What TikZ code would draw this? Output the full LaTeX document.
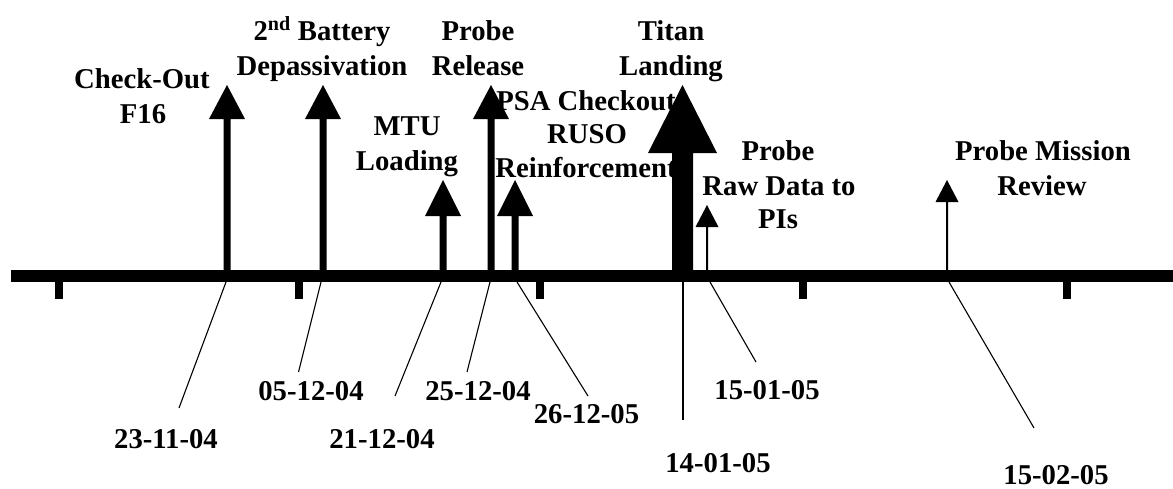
\documentclass[tikz,border=0pt]{standalone}
\usepackage{fontspec}
\setmainfont{Liberation Serif}
\newcommand\tlmark[5]{% x, tip y, head base y, head half width, shaft half width
  \fill (#1-#5,271) -- (#1-#5,#3) -- (#1-#4,#3) -- (#1,#2) -- (#1+#4,#3) -- (#1+#5,#3) -- (#1+#5,271) -- cycle;}
\begin{document}
\begin{tikzpicture}[x=1pt,y=-1pt,
  lbl/.style={font=\fontsize{28.7}{34}\selectfont\bfseries, inner sep=0pt, anchor=base},
  leader/.style={line width=1.1pt}]
\useasboundingbox (0,0) rectangle (1173,488);
% timeline bar and ticks
\fill (11,270) rectangle (1173,282);
\foreach \t in {59,299,540,803,1067} \fill (\t-4,281) rectangle (\t+4,299);
% event markers
\tlmark{227}{85}{119}{18}{3.5}
\tlmark{323}{85}{119}{18}{3.5}
\tlmark{491}{85}{119}{18}{3.5}
\tlmark{443}{180}{216}{18}{3.5}
\tlmark{515}{180}{216}{18}{3.5}
\tlmark{682.5}{85}{153}{34.5}{10.5}
\tlmark{707}{205}{227}{11.5}{1}
\tlmark{947}{180}{202}{11.5}{1}
% event labels
\node[lbl] (co1) at (142,88) {Check-Out};
\node[lbl] (co2) at (143,123) {F16};
\node[lbl] (bt1) at (322,40) {2\textsuperscript{nd} Battery};
\node[lbl] (bt2) at (322,75) {Depassivation};
\node[lbl] (pr1) at (478,40) {Probe};
\node[lbl] (pr2) at (478,75) {Release};
\node[lbl] (mt1) at (407,135) {MTU};
\node[lbl] (mt2) at (407,170) {Loading};
\node[lbl] (ps1) at (586,110) {PSA Checkout};
\node[lbl] (ps2) at (587,143) {RUSO};
\node[lbl] (ps3) at (586,177) {Reinforcement};
\node[lbl] (tl1) at (671,40) {Titan};
\node[lbl] (tl2) at (671,75) {Landing};
\node[lbl] (rd1) at (778,160) {Probe};
\node[lbl] (rd2) at (779,195) {Raw Data to};
\node[lbl] (rd3) at (778,228) {PIs};
\node[lbl] (mr1) at (1043,160) {Probe Mission};
\node[lbl] (mr2) at (1042,195) {Review};
% dates
\node[lbl] (d1) at (166,448) {23-11-04};
\node[lbl] (d2) at (311,400) {05-12-04};
\node[lbl] (d3) at (382,448) {21-12-04};
\node[lbl] (d4) at (478,400) {25-12-04};
\node[lbl] (d5) at (586.5,423) {26-12-05};
\node[lbl] (d6) at (718,472) {14-01-05};
\node[lbl] (d7) at (767,399) {15-01-05};
\node[lbl] (d8) at (1056,484) {15-02-05};
% leader coordinates
\coordinate (a1) at (226,282); \coordinate (b1) at (179,408);
\coordinate (a2) at (321,282); \coordinate (b2) at (298.5,372);
\coordinate (a3) at (441,282); \coordinate (b3) at (395,396);
\coordinate (a4) at (490,282); \coordinate (b4) at (467,372);
\coordinate (a5) at (517,282); \coordinate (b5) at (588,396);
\coordinate (a6) at (683,282); \coordinate (b6) at (683,420);
\coordinate (a7) at (710,282); \coordinate (b7) at (756,362);
\coordinate (a8) at (949,282); \coordinate (b8) at (1034,428);
\foreach \i in {1,...,8} \draw[leader] (a\i) -- (b\i);
\end{tikzpicture}
\end{document}
